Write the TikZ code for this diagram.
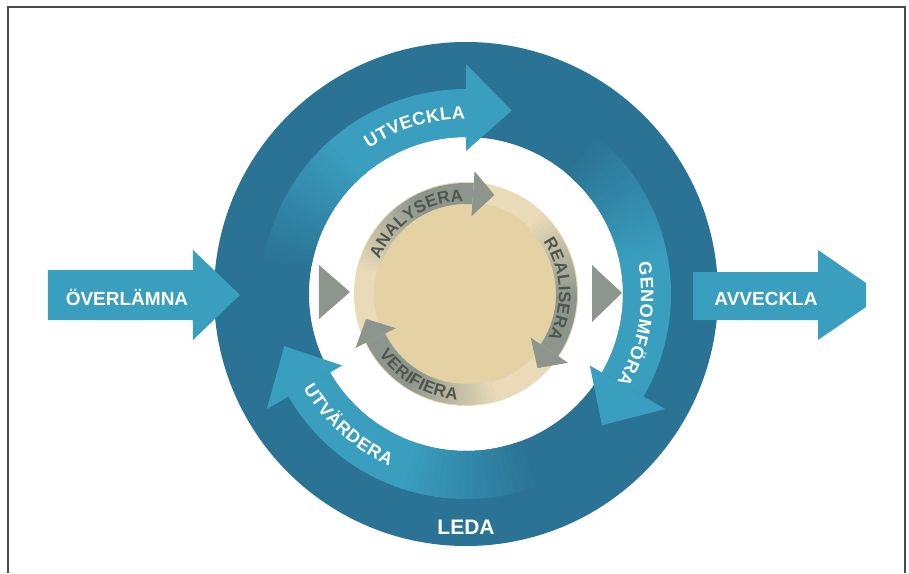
\documentclass[tikz,border=0pt]{standalone}
\usepackage{fontspec}
\setmainfont{Liberation Sans}
\definecolor{ringblue}{HTML}{2A7394}
\definecolor{lightblue}{HTML}{3A9EBE}
\definecolor{disktan}{HTML}{E4D2A5}
\definecolor{diskrim}{HTML}{EADBB8}
\definecolor{grayarrow}{HTML}{8C968C}
\definecolor{graytext}{HTML}{4F564F}
\definecolor{framecol}{HTML}{4A4A4A}
\newcommand\bluetxt{\fontsize{18}{18}\selectfont\bfseries\color{white}}
\newcommand\graytxt{\fontsize{17}{17}\selectfont\bfseries\color{graytext}}
% #1 font, #2 size, #3 baseline radius, #4 centre angle, #5 direction (1 = clockwise, tops outward; -1 = counterclockwise, tops inward), #6 tracking, #7 letter/width list, #8 name prefix
\newcommand\arcword[8]{%
  \gdef\arctotw{0}%
  \foreach \ch/\cw in {#7}{%
    \pgfmathsetmacro\arctmp{\arctotw+\cw*#2/1000+#6}%
    \global\let\arctotw\arctmp}%
  \gdef\arccum{0}%
  \foreach \ch/\cw [count=\k] in {#7}{%
    \pgfmathsetmacro\arcw{\cw*#2/1000+#6}%
    \pgfmathsetmacro\arcang{#4+(#5)*(\arctotw/2-\arccum-\arcw/2)*180/(3.14159*#3)}%
    \pgfmathsetmacro\arcrot{\arcang-90*(#5)}%
    \node[anchor=base, inner sep=0pt, rotate=\arcrot] (#8\k) at (\arcang:#3) {#1\ch};%
    \pgfmathsetmacro\arctmp{\arccum+\arcw}%
    \global\let\arccum\arctmp}%
}
\tikzset{
  bigtxt/.style={text=white, font=\fontsize{19}{19}\selectfont\bfseries, anchor=base, inner sep=0pt},
  ledatxt/.style={text=white, font=\fontsize{21}{21}\selectfont\bfseries, anchor=base, inner sep=0pt},
  tri/.style={fill=grayarrow},
  straightarrow/.style={fill=lightblue}
}
\begin{document}
\begin{tikzpicture}[x=1pt,y=1pt]
\useasboundingbox (-466,-279) rectangle (443,294);
\fill[white] (-466,-279) rectangle (443,294);
% outer ring
\fill[ringblue, even odd rule] (0,0) circle[radius=252] (0,0) circle[radius=157];
% blue curved arrows
\foreach \hb in {90,-30,210}{
  \foreach \i in {0,...,19}{
    \pgfmathsetmacro\a{\hb+80-2*\i}
    \pgfmathsetmacro\b{\a-2.6}
    \pgfmathtruncatemacro\p{5*(\i+1)}
    \fill[lightblue!\p!ringblue] (\a:157) arc[start angle=\a,end angle=\b,radius=157] -- (\b:205) arc[start angle=\b,end angle=\a,radius=205] -- cycle;
  }
  \pgfmathsetmacro\c{\hb+40.5}
  \fill[lightblue] (\c:157) arc[start angle=\c,end angle=\hb,radius=157] -- (\hb:205) arc[start angle=\hb,end angle=\c,radius=205] -- cycle;
  \fill[lightblue] (\hb:143) -- (\hb:230) -- ({\hb-14}:189) -- cycle;
}
% curved blue labels
\arcword{\bluetxt}{18}{175}{107}{1}{0.6}{U/722,T/611,V/667,E/667,C/722,K/722,L/611,A/722}{utv}
\arcword{\bluetxt}{18}{175}{-10}{1}{0.6}{G/778,E/667,N/722,O/778,M/833,F/611,Ö/778,R/722,A/722}{gen}
\arcword{\bluetxt}{18}{188}{228}{-1}{0.6}{U/722,T/611,V/667,Ä/722,R/722,D/722,E/667,R/722,A/722}{utvar}
% inner disk
\fill[diskrim] (0,0) circle[radius=112];
\fill[disktan] (0,0) circle[radius=92];
% gray curved arrows
\foreach \hb in {86,-34,206}{
  \foreach \i in {0,...,19}{
    \pgfmathsetmacro\a{\hb+80-2.5*\i}
    \pgfmathsetmacro\b{\a-3.1}
    \pgfmathtruncatemacro\p{5*(\i+1)}
    \fill[grayarrow!\p!diskrim] (\a:90) arc[start angle=\a,end angle=\b,radius=90] -- (\b:111) arc[start angle=\b,end angle=\a,radius=111] -- cycle;
  }
  \pgfmathsetmacro\c{\hb+30.5}
  \fill[grayarrow] (\c:90) arc[start angle=\c,end angle=\hb,radius=90] -- (\hb:111) arc[start angle=\hb,end angle=\c,radius=111] -- cycle;
  \fill[grayarrow] (\hb:78) -- (\hb:123) -- ({\hb-12}:103) -- cycle;
}
\arcword{\graytxt}{17}{93}{125}{1}{0.3}{A/722,N/722,A/722,L/611,Y/667,S/667,E/667,R/722,A/722}{ana}
\arcword{\graytxt}{17}{93}{3}{1}{0.3}{R/722,E/667,A/722,L/611,I/278,S/667,E/667,R/722,A/722}{rea}
\arcword{\graytxt}{17}{106}{240}{-1}{0.3}{V/667,E/667,R/722,I/278,F/611,I/278,E/667,R/722,A/722}{ver}
% gray triangles
\fill[tri] (-147,29) -- (-116,2) -- (-147,-25) -- cycle;
\fill[tri] (126,29) -- (156,1) -- (126,-28) -- cycle;
% straight arrows
\fill[straightarrow] (-418,24) -- (-273,24) -- (-273,44) -- (-226,-1) -- (-273,-46) -- (-273,-26) -- (-418,-26) -- cycle;
\fill[straightarrow] (227,22) -- (352,22) -- (352,44) -- (400,11) -- (400,-13) -- (352,-46) -- (352,-26) -- (227,-26) -- cycle;
\node[bigtxt] (overl) at (-339,-11.5) {ÖVERLÄMNA};
\node[bigtxt] (avveckla) at (300,-11.5) {AVVECKLA};
\node[ledatxt] (leda) at (0,-240) {LEDA};
% frame
\draw[framecol, line width=2] (-458,-279) -- (-458,287) -- (439,287) -- (439,-279);
\end{tikzpicture}
\end{document}
